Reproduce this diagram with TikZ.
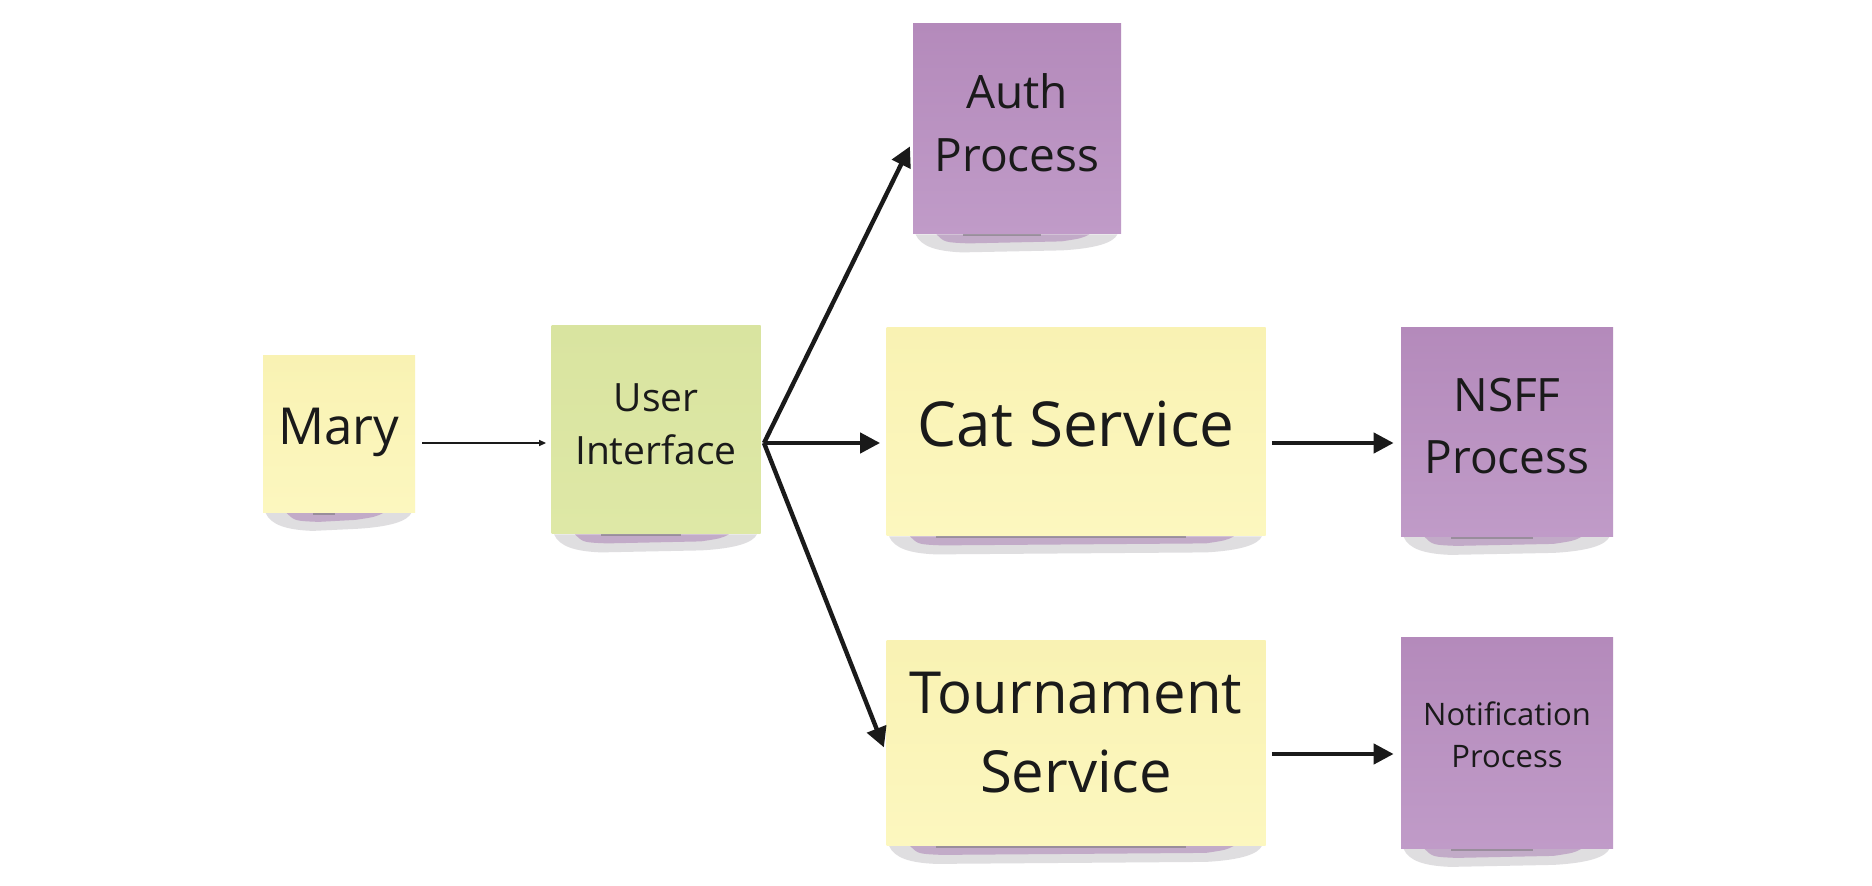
\documentclass[tikz,border=0pt]{standalone}
\usepackage{fontspec}
\setmainfont{Open Sans}
\usetikzlibrary{arrows.meta,backgrounds}
\definecolor{yelT}{HTML}{F9F2B3}
\definecolor{yelB}{HTML}{FCF7BF}
\definecolor{grnT}{HTML}{D9E4A0}
\definecolor{grnB}{HTML}{DEE8A6}
\definecolor{purT}{HTML}{B48ABB}
\definecolor{purB}{HTML}{C09BC8}
\definecolor{shLightC}{HTML}{DCDBDD}
\definecolor{shPurC}{HTML}{B99AC0}
\definecolor{shDarkC}{HTML}{7E7A80}
\definecolor{ink}{HTML}{1A1A1A}
\tikzset{
  sticky/.style={rectangle, inner sep=0pt},
  yel/.style={sticky, top color=yelT, bottom color=yelB},
  grn/.style={sticky, top color=grnT, bottom color=grnB},
  pur/.style={sticky, top color=purT, bottom color=purB},
  note text/.style={inner sep=0pt, align=center, text=ink},
  thick arrow/.style={draw=ink, line width=2.2pt, -{Triangle[length=10pt,width=10pt]}},
  thin arrow/.style={draw=ink, line width=0.7pt, -{Triangle[length=3.5pt,width=3pt]}},
  shLight/.style={fill=shLightC, opacity=0.9},
  shPur/.style={fill=shPurC, opacity=0.75},
  shDark/.style={fill=shDarkC, opacity=0.6},
}
\newcommand\fs[1]{\fontsize{#1}{1.36\dimexpr #1\relax}\selectfont}
\newcommand\noteshadow[1]{%
  \fill[shLight] ([xshift=1.5pt]#1.south west)
    .. controls ([xshift=4pt,yshift=-6pt]#1.south west) and ([xshift=12pt,yshift=-8.5pt]#1.south west)
    .. ([xshift=25pt,yshift=-9pt]#1.south west)
    -- ([xshift=-30pt,yshift=-8pt]#1.south east)
    .. controls ([xshift=-12pt,yshift=-7pt]#1.south east) and ([xshift=-4pt,yshift=-4pt]#1.south east)
    .. ([xshift=-2pt]#1.south east) -- cycle;
  \fill[shPur] ([xshift=12pt]#1.south west)
    .. controls ([xshift=16pt,yshift=-4pt]#1.south west) .. ([xshift=28pt,yshift=-4.5pt]#1.south west)
    -- ([xshift=-30pt,yshift=-3.5pt]#1.south east)
    .. controls ([xshift=-20pt,yshift=-2pt]#1.south east) .. ([xshift=-16pt]#1.south east) -- cycle;
  \fill[shDark] ([xshift=25pt]#1.south west) rectangle ([xshift=-40pt,yshift=-1pt]#1.south east);
}
\begin{document}
\begin{tikzpicture}[x=0.5pt,y=-0.5pt]
\useasboundingbox (0,0) rectangle (1872,886);

\node[yel, minimum width=76pt, minimum height=78.5pt] (mary) at (339,434) {};
\node[grn, minimum width=104.5pt, minimum height=104pt] (ui) at (656,430) {};
\node[pur, minimum width=104pt, minimum height=105pt] (auth) at (1017,129) {};
\node[yel, minimum width=189.5pt, minimum height=104pt] (cat) at (1076,432) {};
\node[pur, minimum width=106pt, minimum height=104.5pt] (nsff) at (1507,432) {};
\node[yel, minimum width=189.5pt, minimum height=102.5pt] (tourn) at (1076,743) {};
\node[pur, minimum width=106pt, minimum height=105.5pt] (notif) at (1507,743) {};

\node[note text, font=\fs{25.5pt}] (maryT) at ([yshift=1pt]mary.center) {Mary};
\node[note text, font=\fs{19.5pt}] (uiT) at ([yshift=3pt]ui.center) {User\\Interface};
\node[note text, font=\fs{23pt}] (authT) at ([yshift=3pt]auth.center) {Auth\\Process};
\node[note text, font=\fs{31pt}] (catT) at ([yshift=4pt]cat.center) {Cat Service};
\node[note text, font=\fs{23pt}] (nsffT) at ([yshift=3pt]nsff.center) {NSFF\\Process};
\node[note text, font=\fs{29pt}] (tournT) at ([yshift=5pt]tourn.center) {Tournament\\Service};
\node[note text, font=\fs{15.5pt}] (notifT) at ([yshift=4pt]notif.center) {Notification\\Process};

\begin{scope}[on background layer]
  \fill[white] (0,0) rectangle (1872,886);
  \noteshadow{mary}
  \noteshadow{ui}
  \noteshadow{auth}
  \noteshadow{cat}
  \noteshadow{nsff}
  \noteshadow{tourn}
  \noteshadow{notif}
\end{scope}

\coordinate (fan) at (764,443);

\draw[thin arrow, shorten <=3.5pt, shorten >=2.5pt] (mary.east |- fan) -- (ui.west |- fan);
\draw[thick arrow, shorten >=3pt] (fan) -- ([yshift=-6pt]auth.west);
\draw[thick arrow, shorten >=3pt] (fan) -- (cat.west |- fan);
\draw[thick arrow, shorten >=3pt] (fan) -- ([yshift=-5pt]tourn.west);
\draw[thick arrow, shorten <=3pt, shorten >=3.5pt] (cat.east |- fan) -- (nsff.west |- fan);
\draw[thick arrow, shorten <=3pt, shorten >=3.5pt] ([yshift=-5.5pt]tourn.east) -- ([yshift=-5.5pt]notif.west);
\end{tikzpicture}
\end{document}
